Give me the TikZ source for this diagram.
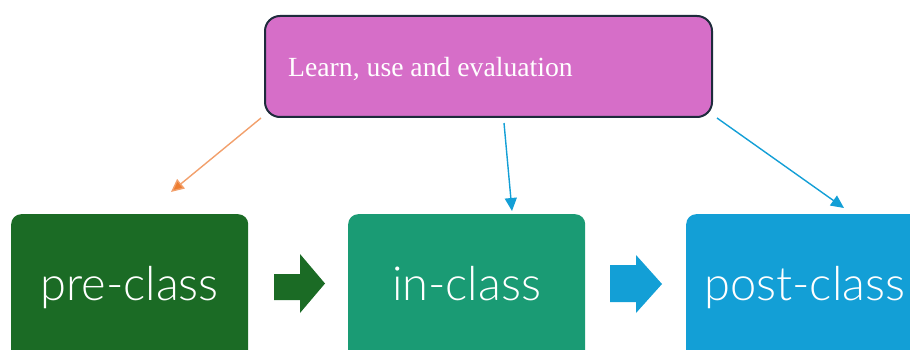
\documentclass[tikz,border=0pt]{standalone}
\usepackage{fontspec}
\setmainfont{Liberation Serif}
\newfontfamily\boxfont{Lato Light}
\usetikzlibrary{arrows.meta}
\definecolor{topfill}{HTML}{D66EC8}
\definecolor{topdraw}{HTML}{1E2B3C}
\definecolor{preg}{HTML}{1B6B25}
\definecolor{ing}{HTML}{1A9B74}
\definecolor{postb}{HTML}{139FD6}
\definecolor{orangeline}{HTML}{F2A06C}
\definecolor{orangetip}{HTML}{ED7D31}
\tikzset{
  stagebox/.style={rounded corners=10pt, minimum width=237pt, minimum height=150pt, inner sep=0pt, anchor=north west},
  stagetext/.style={text=white, font=\boxfont\fontsize{47}{52}\selectfont, inner sep=0pt},
  linkarrow/.style={line width=1.4pt, -{Triangle[length=13pt,width=12pt]}},
}
\begin{document}
\begin{tikzpicture}[x=1pt,y=-1pt]
\useasboundingbox (0,0) rectangle (910,350);
% top box
\node[draw=topdraw, line width=2pt, fill=topfill, rounded corners=15pt, minimum width=447pt, minimum height=101pt, anchor=north west, inner sep=0pt] (top) at (264,15) {};
\node[anchor=base west, text=white, font=\fontsize{27.7}{32}\selectfont, inner sep=0pt] (toptext) at (288,77) {Learn, use and evaluation};
% stage boxes
\node[stagebox, fill=preg] (pre) at (11,214) {};
\node[stagebox, fill=ing] (in) at (348,214) {};
\node[stagebox, fill=postb] (post) at (686,214) {};
\node[stagetext, anchor=base] (pretext) at (129.5,300) {pre-class};
\node[stagetext, anchor=base] (intext) at (466.5,300) {in-class};
\node[stagetext, anchor=base west] (posttext) at (704,300) {post-class};
% block arrows
\fill[preg] (274,274) -- (300,274) -- (300,254) -- (325,283.5) -- (300,313) -- (300,300) -- (274,300) -- cycle;
\fill[postb] (610,265) -- (636,265) -- (636,255) -- (662,284) -- (636,313) -- (636,302) -- (610,302) -- cycle;
% thin arrows
\coordinate (s1) at (261,118);
\coordinate (t1) at (171,192);
\coordinate (s2) at (504,123);
\coordinate (t2) at (512,211);
\coordinate (s3) at (717,118);
\coordinate (t3) at (844,208);
\draw[linkarrow, draw=orangeline, -{Triangle[length=13pt,width=12pt,fill=orangetip]}] (s1) -- (t1);
\draw[linkarrow, draw=postb] (s2) -- (t2);
\draw[linkarrow, draw=postb] (s3) -- (t3);
\end{tikzpicture}
\end{document}
